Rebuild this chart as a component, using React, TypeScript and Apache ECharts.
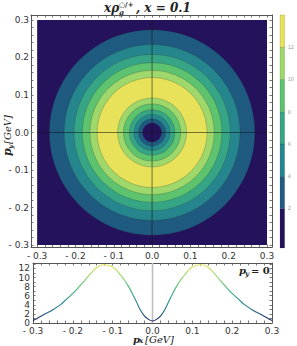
import React, { useEffect, useRef } from 'react';
import * as echarts from 'echarts';

// ---- data ----
const bandColors = ['#24125d', '#1f5b80', '#25878d', '#36a585', '#5ec36e', '#9ed86b', '#e8e25a'];
// contour ring radii (GeV), drawn outermost first, and band index inside each radius
const ringRadii = [0.271, 0.232, 0.206, 0.184, 0.164, 0.145, 0.091, 0.0755, 0.06, 0.0475, 0.036, 0.025];
const ringBands = [1, 2, 3, 4, 5, 6, 5, 4, 3, 2, 1, 0];
const plotDomain = [-0.3, 0.3];
// colour bar bands
const colorbarLows = [-0.45, 2, 4, 6, 8, 10, 12];
const colorbarHighs = [2, 4, 6, 8, 10, 12, 14];
const colorbarLabels = [2, 4, 6, 8, 10, 12];
// slice at p_y = 0
const pxValues = [
  -0.3, -0.29, -0.28, -0.27, -0.26, -0.25, -0.24, -0.23, -0.22, -0.21, -0.2, -0.19, -0.18, -0.17, -0.16, -0.15,
  -0.14, -0.13, -0.12, -0.11, -0.1, -0.09, -0.08, -0.07, -0.06, -0.05, -0.04, -0.03, -0.02, -0.01, 0,
  0.01, 0.02, 0.03, 0.04, 0.05, 0.06, 0.07, 0.08, 0.09, 0.1, 0.11, 0.12, 0.13, 0.14, 0.15,
  0.16, 0.17, 0.18, 0.19, 0.2, 0.21, 0.22, 0.23, 0.24, 0.25, 0.26, 0.27, 0.28, 0.29, 0.3,
];
const curveValues = [
  0.55, 1.0, 1.5, 2.0, 2.4, 2.9, 3.5, 4.1, 4.9, 5.7, 6.5, 7.4, 8.4, 9.4, 10.4, 11.4,
  12.2, 12.7, 12.8, 12.65, 12.3, 11.6, 10.5, 9.4, 8.0, 6.4, 4.6, 2.8, 1.5, 0.8, 0.45,
  0.8, 1.5, 2.8, 4.6, 6.4, 8.0, 9.4, 10.5, 11.6, 12.3, 12.65, 12.8, 12.7, 12.2, 11.4,
  10.4, 9.4, 8.4, 7.4, 6.5, 5.7, 4.9, 4.1, 3.5, 2.9, 2.4, 2.0, 1.5, 1.0, 0.55,
];
const axisLabelValues = [-0.3, -0.2, -0.1, 0, 0.1, 0.2, 0.3];
const curveYLabels = [0, 2, 4, 6, 8, 10, 12];

const minorTicks: number[] = [];
for (let i = -15; i <= 15; i++) minorTicks.push(Math.round(i * 2) / 100);
const curveYTicks: number[] = [];
for (let i = 0; i <= 13; i++) curveYTicks.push(i);

const fmt = (v: number) => {
  const s = Math.abs(v).toFixed(1);
  return v < -1e-9 ? '- ' + s : s;
};

const FRAME = '#555';
const labelStyle = { fontFamily: 'DejaVu Sans', fontSize: 9, color: '#333' };
const serif = '"DejaVu Serif"';

function frameAxis(extra: any) {
  return {
    axisLine: { show: true, onZero: false, lineStyle: { color: FRAME, width: 1 } },
    splitLine: { show: false },
    ...extra,
  };
}

export default function App() {
  const ref = useRef<HTMLDivElement>(null);
  useEffect(() => {
    document.body.style.margin = '0';
    const chart = echarts.init(ref.current!, undefined, { renderer: 'svg' });
    const tickMain = { show: true, inside: true, length: 2.5, customValues: minorTicks, lineStyle: { color: FRAME, width: 0.8 } };
    const tickY2 = { show: true, inside: true, length: 2.5, customValues: curveYTicks, lineStyle: { color: FRAME, width: 0.8 } };

    const option: any = {
      animation: false,
      grid: [
        { left: 31, right: 25, top: 15, height: 232 },
        { left: 33, right: 25, top: 263, bottom: 23 },
        { left: 280, top: 15, width: 8, height: 233 },
      ],
      xAxis: [
        frameAxis({ gridIndex: 0, type: 'value', position: 'bottom', min: -0.316, max: 0.313, axisTick: tickMain,
          axisLabel: { ...labelStyle, margin: 4, customValues: axisLabelValues, formatter: fmt } }),
        frameAxis({ gridIndex: 0, type: 'value', position: 'top', min: -0.316, max: 0.313, axisTick: tickMain,
          axisLabel: { show: false } }),
        frameAxis({ gridIndex: 1, type: 'value', position: 'bottom', min: -0.3, max: 0.3, axisTick: tickMain,
          axisLabel: { ...labelStyle, margin: 3, customValues: axisLabelValues, formatter: fmt } }),
        frameAxis({ gridIndex: 1, type: 'value', position: 'top', min: -0.3, max: 0.3, axisTick: tickMain,
          axisLabel: { show: false } }),
        { gridIndex: 2, type: 'value', min: 0, max: 1, show: false },
      ],
      yAxis: [
        frameAxis({ gridIndex: 0, type: 'value', position: 'left', min: -0.3053, max: 0.3133, axisTick: tickMain,
          axisLabel: { ...labelStyle, margin: 2, customValues: axisLabelValues, formatter: fmt } }),
        frameAxis({ gridIndex: 0, type: 'value', position: 'right', min: -0.3053, max: 0.3133, axisTick: tickMain,
          axisLabel: { show: false } }),
        frameAxis({ gridIndex: 1, type: 'value', position: 'left', min: 0, max: 13.2, axisTick: tickY2,
          axisLabel: { ...labelStyle, margin: 3, customValues: curveYLabels } }),
        frameAxis({ gridIndex: 1, type: 'value', position: 'right', min: 0, max: 13.2, axisTick: tickY2,
          axisLabel: { show: false } }),
        { gridIndex: 2, type: 'value', position: 'right', min: -0.45, max: 14,
          axisLine: { show: false }, axisTick: { show: false }, splitLine: { show: false },
          axisLabel: { fontFamily: 'DejaVu Sans', fontSize: 5, color: '#999', margin: 3, customValues: colorbarLabels } },
      ],
      visualMap: [
        { type: 'continuous', show: false, seriesIndex: 5, dimension: 1, min: 0, max: 12.8, inRange: { color: bandColors } },
      ],
      series: [
        // 0: dark background square
        {
          type: 'custom', xAxisIndex: 0, yAxisIndex: 0, silent: true,
          data: [[plotDomain[0], plotDomain[1]]],
          renderItem: (_p: any, api: any) => {
            const a = api.coord([api.value(0), api.value(1)]);
            const b = api.coord([api.value(1), api.value(0)]);
            return { type: 'rect', shape: { x: a[0], y: a[1], width: b[0] - a[0], height: b[1] - a[1] }, style: { fill: bandColors[0] } };
          },
        },
        // 1: contour rings
        {
          type: 'custom', xAxisIndex: 0, yAxisIndex: 0, silent: true,
          data: ringRadii.map((r, i) => [r, ringBands[i]]),
          renderItem: (_p: any, api: any) => {
            const r = api.value(0);
            const band = api.value(1);
            const c = api.coord([0, 0]);
            const ex = api.coord([r, 0]);
            const ey = api.coord([0, r]);
            const rad = ((ex[0] - c[0]) + (c[1] - ey[1])) / 2;
            return { type: 'circle', shape: { cx: c[0], cy: c[1], r: rad },
              style: { fill: bandColors[band], stroke: 'rgba(40,40,40,0.45)', lineWidth: 0.5 } };
          },
        },
        // 2: crosshair
        {
          type: 'custom', xAxisIndex: 0, yAxisIndex: 0, silent: true,
          data: [[plotDomain[0], plotDomain[1]]],
          renderItem: (_p: any, api: any) => {
            const lo = api.value(0), hi = api.value(1);
            const h1 = api.coord([lo, 0]), h2 = api.coord([hi, 0]);
            const v1 = api.coord([0, lo]), v2 = api.coord([0, hi]);
            const st = { stroke: 'rgba(20,20,20,0.8)', lineWidth: 0.7 };
            return { type: 'group', children: [
              { type: 'line', shape: { x1: h1[0], y1: h1[1], x2: h2[0], y2: h2[1] }, style: st },
              { type: 'line', shape: { x1: v1[0], y1: v1[1], x2: v2[0], y2: v2[1] }, style: st },
            ] };
          },
        },
        // 3: colour bar
        {
          type: 'custom', xAxisIndex: 4, yAxisIndex: 4, silent: true,
          data: colorbarLows.map((lo, i) => [lo, colorbarHighs[i], i]),
          renderItem: (_p: any, api: any) => {
            const p1 = api.coord([0, api.value(1)]);
            const p2 = api.coord([1, api.value(0)]);
            return { type: 'rect', shape: { x: p1[0], y: p1[1], width: p2[0] - p1[0], height: p2[1] - p1[1] },
              style: { fill: bandColors[api.value(2)], stroke: 'rgba(40,40,40,0.4)', lineWidth: 0.4 } };
          },
        },
        // 4: gray zero line in the slice panel
        {
          type: 'custom', xAxisIndex: 2, yAxisIndex: 2, silent: true,
          data: [[0, 13.2]],
          renderItem: (_p: any, api: any) => {
            const a = api.coord([api.value(0), 0]);
            const b = api.coord([api.value(0), api.value(1)]);
            return { type: 'line', shape: { x1: a[0], y1: a[1], x2: b[0], y2: b[1] }, style: { stroke: '#bdbdbd', lineWidth: 1.5 } };
          },
        },
        // 5: slice curve
        {
          type: 'line', xAxisIndex: 2, yAxisIndex: 2, smooth: 0.25, showSymbol: false, silent: true,
          lineStyle: { width: 1.1 },
          data: pxValues.map((x, i) => [x, curveValues[i]]),
        },
      ],
      graphic: [
        // title
        { type: 'group', x: 104, y: 1, children: [
          { type: 'text', x: 0, y: 1, style: { text: 'xρ', font: `italic bold 12px ${serif}`, fill: '#222', verticalAlign: 'top' } },
          { type: 'text', x: 15, y: 8, style: { text: 'g', font: `italic bold 7px ${serif}`, fill: '#222', verticalAlign: 'top' } },
          { type: 'text', x: 15, y: 0, style: { text: '○/+', font: `bold 7px ${serif}`, fill: '#222', verticalAlign: 'top' } },
          { type: 'text', x: 32, y: 1, style: { text: ', x = 0.1', font: `italic bold 12px ${serif}`, fill: '#222', verticalAlign: 'top' } },
        ] },
        // y axis title (rotated)
        { type: 'group', x: 2, y: 156, rotation: Math.PI / 2, children: [
          { type: 'text', x: 0, y: 0, style: { text: 'p', font: `italic bold 11px ${serif}`, fill: '#222', verticalAlign: 'top' } },
          { type: 'text', x: 7, y: 5, style: { text: 'y', font: `italic bold 7px ${serif}`, fill: '#222', verticalAlign: 'top' } },
          { type: 'text', x: 12, y: 0, style: { text: '[GeV]', font: `italic 10px ${serif}`, fill: '#222', verticalAlign: 'top' } },
        ] },
        // x axis title
        { type: 'group', x: 133, y: 334, children: [
          { type: 'text', x: 0, y: 0, style: { text: 'p', font: `italic bold 10px ${serif}`, fill: '#222', verticalAlign: 'top' } },
          { type: 'text', x: 6, y: 3, style: { text: 'x', font: `italic bold 7px ${serif}`, fill: '#222', verticalAlign: 'top' } },
          { type: 'text', x: 12, y: 0, style: { text: '[GeV]', font: `italic 10px ${serif}`, fill: '#222', verticalAlign: 'top' } },
        ] },
        // p_y = 0 label
        { type: 'group', x: 239, y: 265, children: [
          { type: 'text', x: 0, y: 0, style: { text: 'p', font: `italic bold 10px ${serif}`, fill: '#222', verticalAlign: 'top' } },
          { type: 'text', x: 6, y: 5, style: { text: 'y', font: `italic bold 7px ${serif}`, fill: '#222', verticalAlign: 'top' } },
          { type: 'text', x: 12, y: 0, style: { text: '= 0', font: `bold 10px ${serif}`, fill: '#222', verticalAlign: 'top' } },
        ] },
      ],
    };
    chart.setOption(option);
    return () => chart.dispose();
  }, []);
  return <div ref={ref} style={{ width: 297, height: 346 }} />;
}
